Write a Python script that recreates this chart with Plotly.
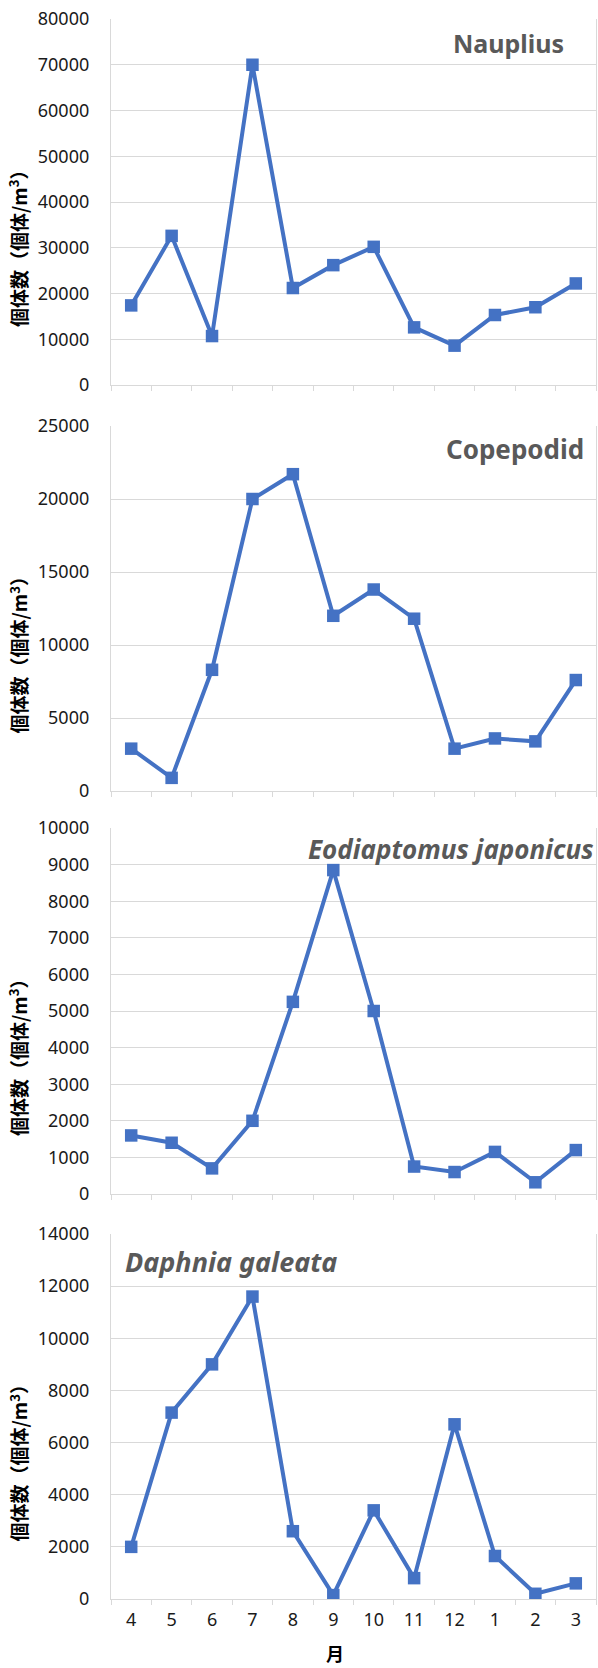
import plotly.graph_objects as go

months = ["4", "5", "6", "7", "8", "9", "10", "11", "12", "1", "2", "3"]

nauplius = [17400, 32600, 10700, 70000, 21200, 26200, 30200, 12600, 8600, 15300, 17000, 22200]
copepodid = [2900, 900, 8300, 20000, 21700, 12000, 13800, 11800, 2900, 3600, 3400, 7600]
eodiaptomus = [1600, 1400, 700, 2000, 5250, 8850, 5000, 750, 600, 1150, 320, 1200]
daphnia = [2000, 7150, 9000, 11600, 2600, 150, 3400, 800, 6700, 1650, 200, 600]

panel_titles = ["<b>Nauplius</b>", "<b>Copepodid</b>",
                "<b><i>Eodiaptomus japonicus</i></b>", "<b><i>Daphnia galeata</i></b>"]
y_max = [80000, 25000, 10000, 14000]
y_dtick = [10000, 5000, 1000, 2000]
y_title = "個体数（個体/m<sup>3</sup>）"
x_title = "月"

W, H = 598, 1668
L, R, T, B = 111, 596, 19, 1599

def py(y):
    return (B - y) / (B - T)

def px(x):
    return (x - L) / (R - L)

panels_px = [(19, 385), (426, 791), (828, 1194), (1234, 1599)]
series = [nauplius, copepodid, eodiaptomus, daphnia]

fig = go.Figure()
blue = "#4472C4"
grid = "#D9D9D9"
tickfont = dict(family="Noto Sans, Open Sans, sans-serif", size=18, color="#1a1a1a")

layout = dict(
    width=W, height=H,
    margin=dict(l=L, r=W - R, t=T, b=H - B, pad=0),
    paper_bgcolor="white", plot_bgcolor="white",
    showlegend=False,
)

annotations = []
for i, (vals, (top, bot)) in enumerate(zip(series, panels_px)):
    n = "" if i == 0 else str(i + 1)
    fig.add_trace(go.Scatter(
        x=months, y=vals, mode="lines+markers",
        line=dict(color=blue, width=4),
        marker=dict(symbol="square", size=12.5, color=blue),
        xaxis="x" + n, yaxis="y" + n,
    ))
    layout["xaxis" + n] = dict(
        type="category", range=[-0.5, 11.5], domain=[0, 1],
        anchor="y" + n, tickson="boundaries", ticks="outside", ticklen=5,
        tickcolor=grid, tickwidth=1.3, showline=True, linecolor=grid, linewidth=1.3,
        showgrid=False, showticklabels=(i == 3), tickfont=tickfont,
        ticklabelstandoff=4,
    )
    layout["yaxis" + n] = dict(
        range=[0, y_max[i]], dtick=y_dtick[i], domain=[py(bot), py(top)],
        anchor="x" + n, tickformat="d", showgrid=True, gridcolor=grid, gridwidth=1.3,
        showline=True, linecolor=grid, linewidth=1.3, mirror=True, zeroline=False,
        ticks="", tickfont=tickfont, ticklabelstandoff=17,
    )
    annotations.append(dict(
        text="<b>" + y_title + "</b>", textangle=-90, xref="paper", yref="paper",
        x=px(18), y=py((top + bot) / 2 + 42), xanchor="center", yanchor="middle",
        showarrow=False, font=dict(family="Noto Sans CJK JP, sans-serif", size=19, color="#000000"),
    ))

title_pos = [(508, 43, 25), (515, 449, 26), (451, 849, 26), (231, 1261, 27)]
for t, (x, y, sz) in zip(panel_titles, title_pos):
    annotations.append(dict(
        text=t, xref="paper", yref="paper", x=px(x), y=py(y),
        xanchor="center", yanchor="middle", showarrow=False,
        font=dict(family="Noto Sans, Open Sans, sans-serif", size=sz, color="#595959"),
    ))

annotations.append(dict(
    text="<b>" + x_title + "</b>", xref="paper", yref="paper", x=px(335), y=py(1653),
    xanchor="center", yanchor="middle", showarrow=False,
    font=dict(family="Noto Sans CJK JP, sans-serif", size=18, color="#000000"),
))

layout["annotations"] = annotations
fig.update_layout(**layout)
fig.write_html("out.html", config={"displayModeBar": False},
               post_script="document.body.style.margin='0';document.body.style.overflow='hidden';")
